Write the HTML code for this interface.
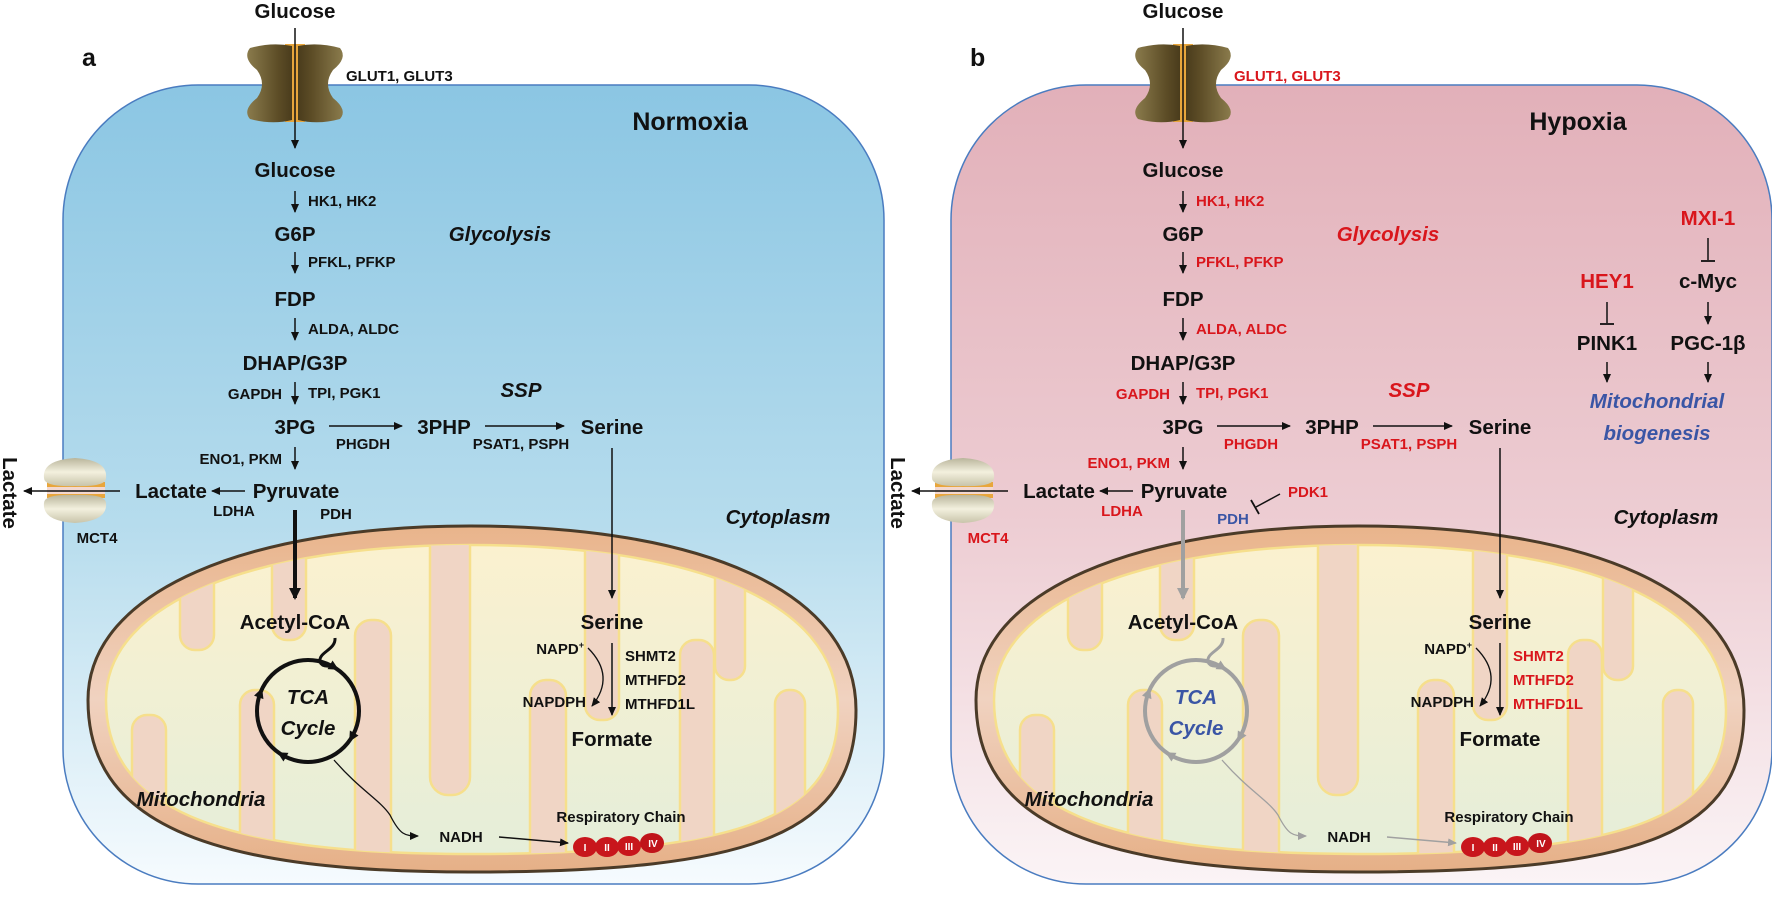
<!DOCTYPE html>
<html><head><meta charset="utf-8">
<style>
html,body{margin:0;padding:0;background:#fff;}
svg{display:block;}
text{font-family:"Liberation Sans",sans-serif;font-weight:bold;}
.m{font-size:20.5px;fill:#111;text-anchor:middle;}
.e{font-size:15px;fill:#111;}
.it{font-style:italic;}
.r{fill:#d9161c;}
.bl{fill:#3a55a5;}
</style></head><body>
<svg width="1772" height="911" viewBox="0 0 1772 911" xmlns="http://www.w3.org/2000/svg">
<defs>
  <linearGradient id="gb" x1="0" y1="0" x2="0" y2="1">
    <stop offset="0" stop-color="#8bc6e3"/><stop offset="0.55" stop-color="#b6dced"/><stop offset="1" stop-color="#f6fbfe"/>
  </linearGradient>
  <linearGradient id="gp" x1="0" y1="0" x2="0" y2="1">
    <stop offset="0" stop-color="#e2b0b9"/><stop offset="0.55" stop-color="#edcdd3"/><stop offset="1" stop-color="#fbf4f6"/>
  </linearGradient>
  <linearGradient id="gm" x1="0" y1="0" x2="0" y2="1">
    <stop offset="0" stop-color="#e9b48b"/><stop offset="0.5" stop-color="#f0d2c0"/><stop offset="1" stop-color="#e6b087"/>
  </linearGradient>
  <linearGradient id="gx" x1="0" y1="0" x2="0" y2="1">
    <stop offset="0" stop-color="#fbf1cf"/><stop offset="1" stop-color="#e5eed9"/>
  </linearGradient>
  <linearGradient id="go" x1="0" y1="0" x2="1" y2="0">
    <stop offset="0" stop-color="#8a7b4c"/><stop offset="0.7" stop-color="#5c4c26"/><stop offset="1" stop-color="#4a3c1c"/>
  </linearGradient>
  <linearGradient id="go2" x1="1" y1="0" x2="0" y2="0">
    <stop offset="0" stop-color="#8a7b4c"/><stop offset="0.7" stop-color="#5c4c26"/><stop offset="1" stop-color="#4a3c1c"/>
  </linearGradient>
  <linearGradient id="gbe" x1="0" y1="0" x2="0" y2="1">
    <stop offset="0" stop-color="#b9b59b"/><stop offset="0.5" stop-color="#f3f0de"/><stop offset="1" stop-color="#c8c4aa"/>
  </linearGradient>
  <marker id="ak" markerWidth="10" markerHeight="10" refX="8" refY="5" orient="auto" markerUnits="userSpaceOnUse">
    <path d="M0,1 L9,5 L0,9 Z" fill="#111"/>
  </marker>
  <marker id="ag" markerWidth="10" markerHeight="10" refX="8" refY="5" orient="auto" markerUnits="userSpaceOnUse">
    <path d="M0,1 L9,5 L0,9 Z" fill="#a0a0a0"/>
  </marker>
  <marker id="akb" markerWidth="14" markerHeight="14" refX="10" refY="7" orient="auto" markerUnits="userSpaceOnUse">
    <path d="M0,1 L12,7 L0,13 Z" fill="#111"/>
  </marker>
  <marker id="agb" markerWidth="14" markerHeight="14" refX="10" refY="7" orient="auto" markerUnits="userSpaceOnUse">
    <path d="M0,1 L12,7 L0,13 Z" fill="#a0a0a0"/>
  </marker>
  <clipPath id="ci"><path d="M106,700 C106,600 260,545 470,545 C690,545 838,600 838,710 C838,815 750,854 470,854 C210,854 106,805 106,700 Z"/></clipPath>
  <g id="mito">
    <path d="M88,700 C88,590 250,526 470,526 C700,526 856,590 856,710 C856,832 760,872 470,872 C200,872 88,820 88,700 Z" fill="url(#gm)" stroke="#4b3b28" stroke-width="3"/>
    <path d="M106,700 C106,600 260,545 470,545 C690,545 838,600 838,710 C838,815 750,854 470,854 C210,854 106,805 106,700 Z" fill="url(#gx)" stroke="#f6df8c" stroke-width="2.5"/>
    <g clip-path="url(#ci)" fill="#f0d5c5" stroke="#f6df8c" stroke-width="2.5">
      <rect x="180" y="520" width="34" height="130" rx="15"/>
      <rect x="272" y="520" width="34" height="120" rx="15"/>
      <rect x="430" y="520" width="40" height="275" rx="18"/>
      <rect x="585" y="520" width="34" height="200" rx="15"/>
      <rect x="715" y="520" width="30" height="160" rx="14"/>
      <rect x="132" y="715" width="34" height="160" rx="15"/>
      <rect x="240" y="690" width="34" height="190" rx="15"/>
      <rect x="355" y="620" width="36" height="260" rx="16"/>
      <rect x="530" y="680" width="36" height="200" rx="16"/>
      <rect x="680" y="640" width="34" height="240" rx="15"/>
      <rect x="775" y="690" width="30" height="180" rx="14"/>
    </g>
  </g>
  <g id="glut">
    <rect x="285" y="44" width="20" height="78" fill="#e8a63c"/>
    <path d="M250,48 Q272,42 292,46 L292,120 Q272,125 250,119 Q242,110 257,98 Q267,84 257,70 Q242,58 250,48 Z" fill="url(#go)"/>
    <path d="M340,48 Q318,42 298,46 L298,120 Q318,125 340,119 Q348,110 333,98 Q323,84 333,70 Q348,58 340,48 Z" fill="url(#go2)"/>
  </g>
  <g id="mct">
    <rect x="47" y="482" width="58" height="16" fill="#e8a63c"/>
    <path d="M44,478 Q42,460 75,458 Q108,460 106,478 Q106,487 75,486 Q44,487 44,478 Z" fill="url(#gbe)"/>
    <path d="M44,503 Q44,494 75,495 Q106,494 106,503 Q108,521 75,523 Q42,521 44,503 Z" fill="url(#gbe)"/>
    <rect x="47" y="487" width="58" height="7" fill="#f3d8d0"/>
  </g>
  <g id="rc">
    <ellipse cx="652" cy="843" rx="12" ry="10" fill="#c0141a"/>
    <ellipse cx="629" cy="846" rx="12" ry="10" fill="#c8161c"/>
    <ellipse cx="607" cy="847" rx="12" ry="10" fill="#c8161c"/>
    <ellipse cx="585" cy="847" rx="12" ry="10" fill="#c8161c"/>
    <text x="585" y="851" font-size="10" fill="#fff" text-anchor="middle">I</text>
    <text x="607" y="851" font-size="10" fill="#fff" text-anchor="middle">II</text>
    <text x="629" y="850" font-size="10" fill="#fff" text-anchor="middle">III</text>
    <text x="653" y="847" font-size="10" fill="#fff" text-anchor="middle">IV</text>
  </g>
</defs>

<!-- ============ PANEL A ============ -->
<rect x="63" y="85" width="821" height="799" rx="135" fill="url(#gb)" stroke="#4a7cc0" stroke-width="1.5"/>
<use href="#mito"/>
<use href="#glut"/>
<use href="#mct"/>
<use href="#rc"/>
<text x="82" y="66" font-size="25" fill="#111">a</text>
<text class="m" x="295" y="18">Glucose</text>
<line x1="295" y1="28" x2="295" y2="148" stroke="#111" stroke-width="1.5" marker-end="url(#ak)"/>
<text class="e" x="346" y="81" font-size="16.5">GLUT1, GLUT3</text>
<text x="690" y="130" font-size="25" fill="#111" text-anchor="middle">Normoxia</text>
<text class="m" x="295" y="177">Glucose</text>
<line x1="295" y1="191" x2="295" y2="212" stroke="#111" stroke-width="1.5" marker-end="url(#ak)"/>
<text class="e" x="308" y="206">HK1, HK2</text>
<text class="m" x="295" y="241">G6P</text>
<text class="m it" x="500" y="241">Glycolysis</text>
<line x1="295" y1="252" x2="295" y2="273" stroke="#111" stroke-width="1.5" marker-end="url(#ak)"/>
<text class="e" x="308" y="267">PFKL, PFKP</text>
<text class="m" x="295" y="306">FDP</text>
<line x1="295" y1="318" x2="295" y2="340" stroke="#111" stroke-width="1.5" marker-end="url(#ak)"/>
<text class="e" x="308" y="334">ALDA, ALDC</text>
<text class="m" x="295" y="370">DHAP/G3P</text>
<line x1="295" y1="382" x2="295" y2="404" stroke="#111" stroke-width="1.5" marker-end="url(#ak)"/>
<text class="e" x="282" y="399" text-anchor="end">GAPDH</text>
<text class="e" x="308" y="398">TPI, PGK1</text>
<text class="m it" x="521" y="397">SSP</text>
<text class="m" x="295" y="434">3PG</text>
<line x1="329" y1="426" x2="402" y2="426" stroke="#111" stroke-width="1.5" marker-end="url(#ak)"/>
<text class="m" x="444" y="434">3PHP</text>
<line x1="485" y1="426" x2="564" y2="426" stroke="#111" stroke-width="1.5" marker-end="url(#ak)"/>
<text class="m" x="612" y="434">Serine</text>
<text class="e" x="363" y="449" text-anchor="middle">PHGDH</text>
<text class="e" x="521" y="449" text-anchor="middle">PSAT1, PSPH</text>
<line x1="295" y1="447" x2="295" y2="469" stroke="#111" stroke-width="1.5" marker-end="url(#ak)"/>
<text class="e" x="282" y="464" text-anchor="end">ENO1, PKM</text>
<text class="m" x="171" y="498">Lactate</text>
<text class="m" x="296" y="498">Pyruvate</text>
<line x1="245" y1="491" x2="212" y2="491" stroke="#111" stroke-width="1.5" marker-end="url(#ak)"/>
<text class="e" x="234" y="516" text-anchor="middle">LDHA</text>
<text class="e" x="336" y="519" text-anchor="middle">PDH</text>
<line x1="295" y1="510" x2="295" y2="598" stroke="#111" stroke-width="4" marker-end="url(#akb)"/>
<line x1="612" y1="448" x2="612" y2="598" stroke="#111" stroke-width="1.5" marker-end="url(#ak)"/>
<text class="m it" x="778" y="524">Cytoplasm</text>
<text class="e" x="97" y="543" font-size="16" text-anchor="middle">MCT4</text>
<line x1="120" y1="491" x2="24" y2="491" stroke="#111" stroke-width="1.5" marker-end="url(#ak)"/>
<text class="m" transform="translate(3,493) rotate(90)">Lactate</text>
<text class="m" x="295" y="629">Acetyl-CoA</text>
<text class="m" x="612" y="629">Serine</text>
<path d="M335,638 C336,650 318,652 320,662 Q322,667 330,666" fill="none" stroke="#111" stroke-width="3"/>
<circle cx="308" cy="711" r="51" fill="none" stroke="#111" stroke-width="4"/>
<g fill="#111">
  <polygon points="6,0 -4,-5 -4,5" transform="translate(333.5,666.8) rotate(30)"/>
  <polygon points="6,0 -4,-5 -4,5" transform="translate(352.2,736.5) rotate(120)"/>
  <polygon points="6,0 -4,-5 -4,5" transform="translate(282.5,755.2) rotate(210)"/>
  <polygon points="6,0 -4,-5 -4,5" transform="translate(260.1,693.6) rotate(290)"/>
</g>
<text class="m it" x="308" y="704" font-size="21">TCA</text>
<text class="m it" x="308" y="735" font-size="21">Cycle</text>
<text class="e" x="584" y="654" text-anchor="end">NAPD<tspan font-size="9" dy="-6">+</tspan></text>
<text class="e" x="586" y="707" text-anchor="end">NAPDPH</text>
<path d="M588,648 Q616,676 592,706" fill="none" stroke="#111" stroke-width="1.3" marker-end="url(#ak)"/>
<line x1="612" y1="643" x2="612" y2="715" stroke="#111" stroke-width="1.5" marker-end="url(#ak)"/>
<text class="e" x="625" y="661">SHMT2</text>
<text class="e" x="625" y="685">MTHFD2</text>
<text class="e" x="625" y="709">MTHFD1L</text>
<text class="m" x="612" y="746">Formate</text>
<text class="m it" x="201" y="806">Mitochondria</text>
<path d="M334,760 C360,790 380,800 390,815 C400,835 405,836 418,836" fill="none" stroke="#111" stroke-width="1.3" marker-end="url(#ak)"/>
<text class="e" x="461" y="842" text-anchor="middle">NADH</text>
<text class="e" x="621" y="822" text-anchor="middle">Respiratory Chain</text>
<line x1="499" y1="837" x2="568" y2="843" stroke="#111" stroke-width="1.5" marker-end="url(#ak)"/>

<!-- ============ PANEL B ============ -->
<rect x="951" y="85" width="821" height="799" rx="135" fill="url(#gp)" stroke="#4a7cc0" stroke-width="1.5"/>
<g transform="translate(888,0)">
<use href="#mito"/>
<use href="#glut"/>
<use href="#mct"/>
<use href="#rc"/>
<text x="82" y="66" font-size="25" fill="#111">b</text>
<text class="m" x="295" y="18">Glucose</text>
<line x1="295" y1="28" x2="295" y2="148" stroke="#111" stroke-width="1.5" marker-end="url(#ak)"/>
<text class="e r" x="346" y="81" font-size="16.5">GLUT1, GLUT3</text>
<text x="690" y="130" font-size="25" fill="#111" text-anchor="middle">Hypoxia</text>
<text class="m" x="295" y="177">Glucose</text>
<line x1="295" y1="191" x2="295" y2="212" stroke="#111" stroke-width="1.5" marker-end="url(#ak)"/>
<text class="e r" x="308" y="206">HK1, HK2</text>
<text class="m" x="295" y="241">G6P</text>
<text class="m it r" x="500" y="241">Glycolysis</text>
<line x1="295" y1="252" x2="295" y2="273" stroke="#111" stroke-width="1.5" marker-end="url(#ak)"/>
<text class="e r" x="308" y="267">PFKL, PFKP</text>
<text class="m" x="295" y="306">FDP</text>
<line x1="295" y1="318" x2="295" y2="340" stroke="#111" stroke-width="1.5" marker-end="url(#ak)"/>
<text class="e r" x="308" y="334">ALDA, ALDC</text>
<text class="m" x="295" y="370">DHAP/G3P</text>
<line x1="295" y1="382" x2="295" y2="404" stroke="#111" stroke-width="1.5" marker-end="url(#ak)"/>
<text class="e r" x="282" y="399" text-anchor="end">GAPDH</text>
<text class="e r" x="308" y="398">TPI, PGK1</text>
<text class="m it r" x="521" y="397">SSP</text>
<text class="m" x="295" y="434">3PG</text>
<line x1="329" y1="426" x2="402" y2="426" stroke="#111" stroke-width="1.5" marker-end="url(#ak)"/>
<text class="m" x="444" y="434">3PHP</text>
<line x1="485" y1="426" x2="564" y2="426" stroke="#111" stroke-width="1.5" marker-end="url(#ak)"/>
<text class="m" x="612" y="434">Serine</text>
<text class="e r" x="363" y="449" text-anchor="middle">PHGDH</text>
<text class="e r" x="521" y="449" text-anchor="middle">PSAT1, PSPH</text>
<line x1="295" y1="447" x2="295" y2="469" stroke="#111" stroke-width="1.5" marker-end="url(#ak)"/>
<text class="e r" x="282" y="468" text-anchor="end">ENO1, PKM</text>
<text class="m" x="171" y="498">Lactate</text>
<text class="m" x="296" y="498">Pyruvate</text>
<line x1="245" y1="491" x2="212" y2="491" stroke="#111" stroke-width="1.5" marker-end="url(#ak)"/>
<text class="e r" x="234" y="516" text-anchor="middle">LDHA</text>
<text class="e r" x="420" y="497" text-anchor="middle">PDK1</text>
<line x1="392" y1="494" x2="368" y2="507" stroke="#111" stroke-width="1.5"/>
<line x1="363" y1="500" x2="371" y2="514" stroke="#111" stroke-width="1.8"/>
<text class="e bl" x="345" y="524" text-anchor="middle">PDH</text>
<line x1="295" y1="510" x2="295" y2="598" stroke="#a0a0a0" stroke-width="4" marker-end="url(#agb)"/>
<line x1="612" y1="448" x2="612" y2="598" stroke="#111" stroke-width="1.5" marker-end="url(#ak)"/>
<text class="m it" x="778" y="524">Cytoplasm</text>
<text class="e r" x="100" y="543" font-size="16" text-anchor="middle">MCT4</text>
<line x1="120" y1="491" x2="24" y2="491" stroke="#111" stroke-width="1.5" marker-end="url(#ak)"/>
<text class="m" transform="translate(3,493) rotate(90)">Lactate</text>
<text class="m r" x="820" y="225">MXI-1</text>
<line x1="820" y1="238" x2="820" y2="260" stroke="#111" stroke-width="1.5"/>
<line x1="813" y1="261" x2="827" y2="261" stroke="#111" stroke-width="1.8"/>
<text class="m r" x="719" y="288">HEY1</text>
<text class="m" x="820" y="288">c-Myc</text>
<line x1="719" y1="302" x2="719" y2="323" stroke="#111" stroke-width="1.5"/>
<line x1="712" y1="324" x2="726" y2="324" stroke="#111" stroke-width="1.8"/>
<line x1="820" y1="302" x2="820" y2="324" stroke="#111" stroke-width="1.5" marker-end="url(#ak)"/>
<text class="m" x="719" y="350">PINK1</text>
<text class="m" x="820" y="350">PGC-1β</text>
<line x1="719" y1="362" x2="719" y2="382" stroke="#111" stroke-width="1.5" marker-end="url(#ak)"/>
<line x1="820" y1="362" x2="820" y2="382" stroke="#111" stroke-width="1.5" marker-end="url(#ak)"/>
<text class="m it bl" x="769" y="408" font-size="21">Mitochondrial</text>
<text class="m it bl" x="769" y="440" font-size="21">biogenesis</text>
<text class="m" x="295" y="629">Acetyl-CoA</text>
<text class="m" x="612" y="629">Serine</text>
<path d="M335,638 C336,650 318,652 320,662 Q322,667 330,666" fill="none" stroke="#a0a0a0" stroke-width="3"/>
<circle cx="308" cy="711" r="51" fill="none" stroke="#a0a0a0" stroke-width="4"/>
<g fill="#a0a0a0">
  <polygon points="6,0 -4,-5 -4,5" transform="translate(333.5,666.8) rotate(30)"/>
  <polygon points="6,0 -4,-5 -4,5" transform="translate(352.2,736.5) rotate(120)"/>
  <polygon points="6,0 -4,-5 -4,5" transform="translate(282.5,755.2) rotate(210)"/>
  <polygon points="6,0 -4,-5 -4,5" transform="translate(260.1,693.6) rotate(290)"/>
</g>
<text class="m it bl" x="308" y="704" font-size="21">TCA</text>
<text class="m it bl" x="308" y="735" font-size="21">Cycle</text>
<text class="e" x="584" y="654" text-anchor="end">NAPD<tspan font-size="9" dy="-6">+</tspan></text>
<text class="e" x="586" y="707" text-anchor="end">NAPDPH</text>
<path d="M588,648 Q616,676 592,706" fill="none" stroke="#111" stroke-width="1.3" marker-end="url(#ak)"/>
<line x1="612" y1="643" x2="612" y2="715" stroke="#111" stroke-width="1.5" marker-end="url(#ak)"/>
<text class="e r" x="625" y="661">SHMT2</text>
<text class="e r" x="625" y="685">MTHFD2</text>
<text class="e r" x="625" y="709">MTHFD1L</text>
<text class="m" x="612" y="746">Formate</text>
<text class="m it" x="201" y="806">Mitochondria</text>
<path d="M334,760 C360,790 380,800 390,815 C400,835 405,836 418,836" fill="none" stroke="#a0a0a0" stroke-width="1.3" marker-end="url(#ag)"/>
<text class="e" x="461" y="842" text-anchor="middle">NADH</text>
<text class="e" x="621" y="822" text-anchor="middle">Respiratory Chain</text>
<line x1="499" y1="837" x2="568" y2="843" stroke="#a0a0a0" stroke-width="1.5" marker-end="url(#ag)"/>
</g>
</svg>
</body></html>
